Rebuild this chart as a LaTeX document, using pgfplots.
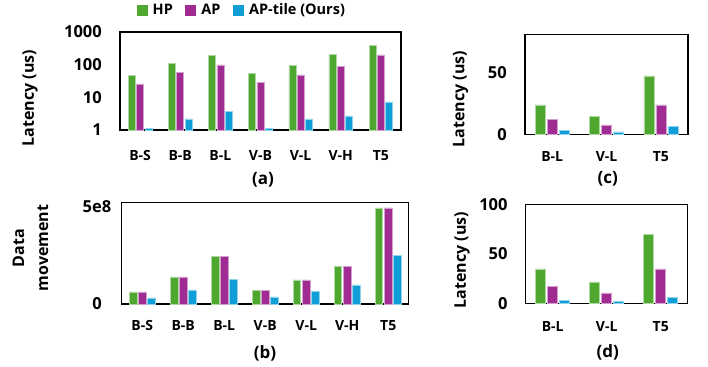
\documentclass[border=0pt]{standalone}
\usepackage{fontspec}
\setmainfont{Open Sans}
\usepackage{pgfplots}
\pgfplotsset{compat=1.18}
\definecolor{cHP}{HTML}{4EA72E}
\definecolor{cAP}{HTML}{A02B93}
\definecolor{cT}{HTML}{0F9ED5}
\pgfplotsset{
  base/.style={scale only axis, anchor=north west,
    axis line style={line width=1.5bp},
    major tick length=0pt, minor tick length=0pt,
    /pgf/number format/assume math mode=true,
    scaled y ticks=false,
    xticklabel style={font=\bfseries\fontsize{14bp}{16bp}\selectfont, anchor=base, inner sep=0pt},
    yticklabel style={font=\bfseries\fontsize{16.5bp}{18bp}\selectfont, anchor=east, inner sep=0pt, xshift=-18bp},
    clip=false},
  hp/.style={fill=cHP, draw=cHP!45!white, line width=0.5bp},
  ap/.style={fill=cAP, draw=cAP!45!white, line width=0.5bp},
  tl/.style={fill=cT, draw=cT!45!white, line width=0.5bp},
}
\newcommand{\lab}{\bfseries\fontsize{16bp}{18bp}\selectfont}
\begin{document}
\begin{tikzpicture}
\useasboundingbox (0,0) rectangle (708bp,-367bp);
% (a)
\begin{axis}[base, at={(120bp,-32bp)}, width=281bp, height=98bp,
  ymode=log, ymin=1, ymax=1000, log origin=infty,
  ytick={1,10,100,1000}, yticklabels={1,10,100,1000},
  xmin=-0.5, xmax=6.5, xtick={0,...,6},
  xticklabels={B-S,B-B,B-L,V-B,V-L,V-H,T5},
  xticklabel style={yshift=-30bp},
  ybar=1.3bp, bar width=7bp,
  legend columns=3,
  legend style={at={(0.4300,1.2245)}, anchor=center, draw=none, fill=none,
    font=\bfseries\fontsize{14.5bp}{16bp}\selectfont,
    /tikz/every odd column/.append style={column sep=5.5bp},
    /tikz/every even column/.append style={column sep=12.5bp},
    nodes={inner sep=0pt}},
]
\addplot[hp, legend image code/.code={\fill[cHP] (0bp,-5bp) rectangle (10bp,5bp);}] coordinates {(0,48) (1,110) (2,193) (3,54) (4,95) (5,207) (6,390)};
\addplot[ap, legend image code/.code={\fill[cAP] (0bp,-5bp) rectangle (10bp,5bp);}] coordinates {(0,25.6) (1,58) (2,99) (3,28) (4,49) (5,91) (6,200)};
\addplot[tl, legend image code/.code={\fill[cT] (0bp,-5bp) rectangle (10bp,5bp);}] coordinates {(0,1.1) (1,2.2) (2,3.8) (3,1.1) (4,2.2) (5,2.7) (6,7.2)};
\legend{HP,AP,AP-tile (Ours)}
\end{axis}
% (b)
\begin{axis}[base, at={(121.7bp,-202.7bp)}, width=287bp, height=101.3bp,
  ymin=0, ymax=5.2e8, ytick={0,5e8}, yticklabels={0,5e8},
  yticklabel style={anchor=center, xshift=-6.7bp},
  xmin=-0.5, xmax=6.5, xtick={0,...,6},
  xticklabels={B-S,B-B,B-L,V-B,V-L,V-H,T5},
  xticklabel style={yshift=-27bp},
  ybar=1.7bp, bar width=7.5bp,
]
\addplot[hp] coordinates {(0,0.62e8) (1,1.39e8) (2,2.46e8) (3,0.70e8) (4,1.24e8) (5,1.92e8) (6,4.93e8)};
\addplot[ap] coordinates {(0,0.62e8) (1,1.39e8) (2,2.46e8) (3,0.70e8) (4,1.24e8) (5,1.92e8) (6,4.93e8)};
\addplot[tl] coordinates {(0,0.32e8) (1,0.72e8) (2,1.27e8) (3,0.36e8) (4,0.63e8) (5,0.98e8) (6,2.51e8)};
\end{axis}
% (c)
\begin{axis}[base, at={(525bp,-34.3bp)}, width=163bp, height=100bp,
  ymin=0, ymax=81, ytick={0,50},
  xmin=-0.5, xmax=2.5, xtick={0,1,2}, xticklabels={B-L,V-L,T5},
  xticklabel style={yshift=-27.4bp},
  ybar=2bp, bar width=10bp,
]
\addplot[hp] coordinates {(0,23.8) (1,14.8) (2,47.3)};
\addplot[ap] coordinates {(0,12.2) (1,7.6) (2,23.8)};
\addplot[tl] coordinates {(0,3.2) (1,1.9) (2,6.7)};
\end{axis}
% (d)
\begin{axis}[base, at={(525.7bp,-204.3bp)}, width=162bp, height=99.4bp,
  ymin=0, ymax=100, ytick={0,50,100},
  xmin=-0.5, xmax=2.5, xtick={0,1,2}, xticklabels={B-L,V-L,T5},
  xticklabel style={yshift=-28bp},
  ybar=2bp, bar width=10bp,
]
\addplot[hp] coordinates {(0,35) (1,22) (2,70)};
\addplot[ap] coordinates {(0,17.8) (1,11) (2,35)};
\addplot[tl] coordinates {(0,3.7) (1,2) (2,6.4)};
\end{axis}
% axis titles
\node[rotate=90, font=\lab] at (30bp,-98bp) {Latency (us)};
\node[rotate=90, font=\lab] at (18.5bp,-248bp) {Data};
\node[rotate=90, font=\lab] at (43bp,-248bp) {movement};
\node[rotate=90, font=\lab] at (460.5bp,-99bp) {Latency (us)};
\node[rotate=90, font=\lab] at (462bp,-260bp) {Latency (us)};
% captions
\node[font=\bfseries\fontsize{17bp}{19bp}\selectfont] at (263bp,-180bp) {(a)};
\node[font=\bfseries\fontsize{17bp}{19bp}\selectfont] at (265bp,-353bp) {(b)};
\node[font=\bfseries\fontsize{17bp}{19bp}\selectfont] at (607.7bp,-179bp) {(c)};
\node[font=\bfseries\fontsize{17bp}{19bp}\selectfont] at (607.7bp,-352.7bp) {(d)};
\end{tikzpicture}
\end{document}
